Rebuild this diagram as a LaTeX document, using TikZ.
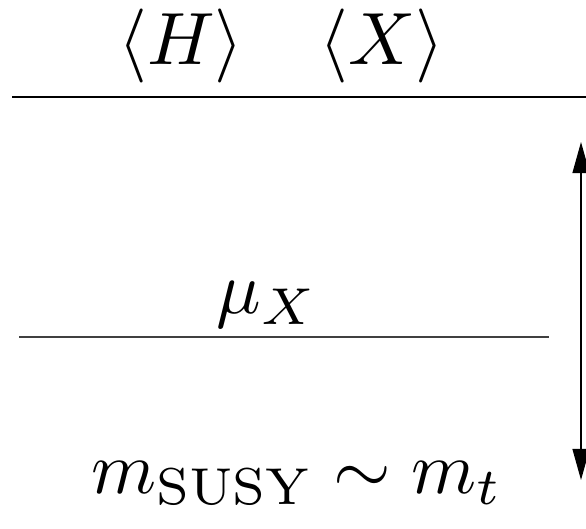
\documentclass[tikz,border=0pt]{standalone}
\usepackage{amsmath,amssymb}
\usepackage{tikz}
\usetikzlibrary{arrows.meta}

\begin{document}
\begin{tikzpicture}[
  x=0.135pt, y=-0.135pt,
  lbl/.style={inner sep=0pt, anchor=base},
  level/.style={line width=0.2pt},
  arr/.style={{Triangle[length=4.2pt, width=2.3pt]}-{Triangle[length=4.2pt, width=2.3pt]}, line width=0.17pt}
]
\useasboundingbox (0,0) rectangle (586,528);
\node[lbl] (vevH) at (181,65) {$\langle H\rangle$};
\node[lbl] (vevX) at (382,65) {$\langle X\rangle$};
\draw[level] (12,97) coordinate (hl) -- (586,97) coordinate (hr);
\node[lbl] (muX) at (267,313) {$\mu_X$};
\draw[level, black!75] (19,337) coordinate (ml) -- (549,337) coordinate (mr);
\node[lbl] (msusy) at (297,493) {$m_{\text{SUSY}}\sim m_t$};
\coordinate (scaletop) at (581,142);
\coordinate (scalebot) at (581,480);
\draw[arr] (scaletop) -- (scalebot);
\end{tikzpicture}
\end{document}
